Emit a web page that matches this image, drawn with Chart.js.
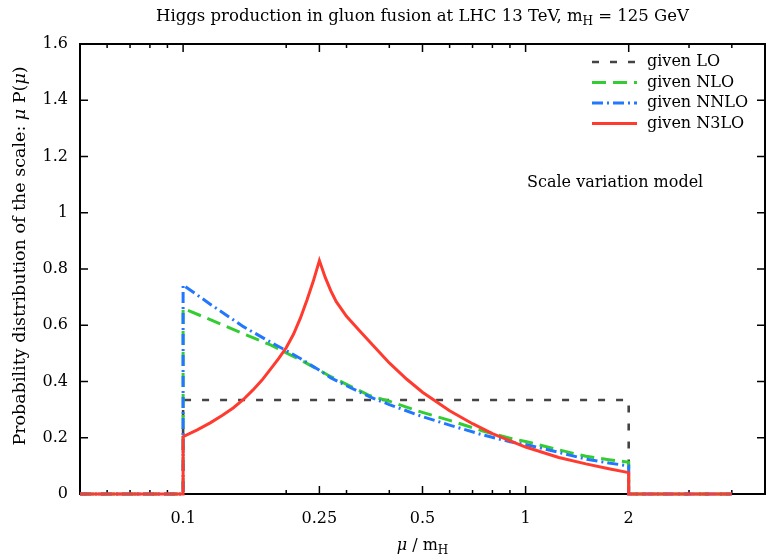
<!DOCTYPE html>
<html>
<head>
<meta charset="utf-8">
<script src="https://cdn.jsdelivr.net/npm/chart.js@4.4.1/dist/chart.umd.min.js"></script>
<style>
  html, body { margin: 0; padding: 0; background: #fff; }
  #wrap { width: 766px; height: 558px; }
</style>
</head>
<body>
<div id="wrap"><canvas id="chart" width="766" height="558"></canvas></div>
<script>
// mu / mH sample points (0.1 and 2 appear twice for the vertical edges)
const mu = [0.05, 0.1, 0.1, 0.12, 0.15, 0.18, 0.2, 0.22, 0.25, 0.27, 0.3, 0.35, 0.4, 0.5, 0.6, 0.75, 0.9, 1, 1.25, 1.5, 1.75, 2, 2, 4];
const givenLO   = [0, 0, 0.334, 0.334, 0.334, 0.334, 0.334, 0.334, 0.334, 0.334, 0.334, 0.334, 0.334, 0.334, 0.334, 0.334, 0.334, 0.334, 0.334, 0.334, 0.334, 0.334, 0, 0];
const givenNLO  = [0, 0, 0.66, 0.62, 0.57, 0.53, 0.502, 0.477, 0.44, 0.417, 0.39, 0.35, 0.33, 0.29, 0.262, 0.224, 0.198, 0.187, 0.157, 0.134, 0.122, 0.113, 0, 0];
const givenNNLO = [0, 0, 0.743, 0.675, 0.595, 0.54, 0.51, 0.482, 0.44, 0.413, 0.385, 0.346, 0.318, 0.275, 0.245, 0.21, 0.186, 0.176, 0.148, 0.124, 0.11, 0.10, 0, 0];

const muN3LO = [0.05, 0.1, 0.1, 0.11, 0.12, 0.13, 0.14, 0.15, 0.16, 0.17, 0.18, 0.19, 0.2, 0.21, 0.22, 0.23, 0.24, 0.25,
  0.26, 0.27, 0.28, 0.3, 0.325, 0.35, 0.4, 0.45, 0.5, 0.6, 0.7, 0.8, 1, 1.25, 1.5, 1.75, 2, 2, 4];
const givenN3LO = [0, 0, 0.204, 0.228, 0.253, 0.279, 0.306, 0.336, 0.37, 0.405, 0.444, 0.481, 0.52, 0.568, 0.625, 0.69, 0.757, 0.83,
  0.77, 0.722, 0.684, 0.632, 0.585, 0.542, 0.466, 0.408, 0.362, 0.296, 0.25, 0.215, 0.167, 0.13, 0.107, 0.09, 0.076, 0, 0];

const xTicks = [0.05, 0.06, 0.07, 0.08, 0.09, 0.1, 0.2, 0.25, 0.3, 0.4, 0.5, 0.6, 0.7, 0.8, 0.9, 1, 2, 3, 4, 5];
const xMajor = [0.1, 0.25, 0.5, 1, 2];
const xMajorLabels = ['0.1', '0.25', '0.5', '1', '2'];
const yTickLabels = ['0', '0.2', '0.4', '0.6', '0.8', '1', '1.2', '1.4', '1.6'];

const FONT = '"DejaVu Serif"';

function pts(xs, vals) {
  return xs.map((m, i) => ({x: m, y: vals[i]}));
}

// draws text made of pieces [text, font, dy]
function rich(ctx, parts, x, y, align) {
  let w = 0;
  parts.forEach(p => { ctx.font = p[1]; w += ctx.measureText(p[0]).width; });
  let cx = align === 'center' ? x - w / 2 : x;
  ctx.textAlign = 'left';
  ctx.textBaseline = 'alphabetic';
  parts.forEach(p => {
    ctx.font = p[1];
    ctx.fillText(p[0], cx, y + (p[2] || 0));
    cx += ctx.measureText(p[0]).width;
  });
}

const frame = {
  id: 'frame',
  beforeDatasetsDraw(chart) {
    const {ctx, chartArea: a, scales: {x, y}} = chart;
    ctx.save();
    ctx.strokeStyle = '#000';
    ctx.lineWidth = 2;
    ctx.strokeRect(a.left, a.top, a.right - a.left, a.bottom - a.top);
    ctx.lineWidth = 1.5;
    ctx.beginPath();
    x.ticks.forEach(t => {
      const px = x.getPixelForValue(t.value);
      const len = t.major ? 8 : 4;
      ctx.moveTo(px, a.bottom); ctx.lineTo(px, a.bottom - len);
      ctx.moveTo(px, a.top); ctx.lineTo(px, a.top + len);
    });
    y.ticks.forEach(t => {
      const py = y.getPixelForValue(t.value);
      ctx.moveTo(a.left, py); ctx.lineTo(a.left + 8, py);
      ctx.moveTo(a.right, py); ctx.lineTo(a.right - 8, py);
    });
    ctx.stroke();
    ctx.restore();
  },
  afterDraw(chart) {
    const {ctx, chartArea: a} = chart;
    const reg = '16px ' + FONT, ital = 'italic 16px ' + FONT, sub = '12px ' + FONT;
    ctx.save();
    ctx.fillStyle = '#000';
    rich(ctx, [['Higgs production in gluon fusion at LHC 13 TeV, m', '16.5px ' + FONT], ['H', sub, 4], [' = 125 GeV', '16.5px ' + FONT]], (a.left + a.right) / 2, 21, 'center');
    rich(ctx, [['\u03bc', ital], [' / m', reg], ['H', sub, 4]], (a.left + a.right) / 2, 550, 'center');
    ctx.translate(25, 256);
    ctx.rotate(-Math.PI / 2);
    const yl = '17.5px ' + FONT, yli = 'italic 17.5px ' + FONT;
    rich(ctx, [['Probability distribution of the scale: ', yl], ['\u03bc', yli], [' P(', yl], ['\u03bc', yli], [')', yl]], 0, 0, 'center');
    ctx.restore();

    // legend
    ctx.save();
    ctx.font = reg;
    ctx.fillStyle = '#000';
    ctx.textBaseline = 'middle';
    chart.data.datasets.forEach((ds, i) => {
      const ly = 62 + i * 20.5;
      ctx.strokeStyle = ds.borderColor;
      ctx.lineWidth = ds.borderWidth;
      ctx.setLineDash(ds.borderDash || []);
      ctx.beginPath();
      ctx.moveTo(592, ly); ctx.lineTo(637, ly);
      ctx.stroke();
      ctx.fillText(ds.label, 647, ly);
    });
    ctx.setLineDash([]);
    ctx.textBaseline = 'alphabetic';
    ctx.fillText('Scale variation model', 527, 187);
    ctx.restore();
  }
};

new Chart(document.getElementById('chart'), {
  type: 'scatter',
  data: {
    datasets: [
      {label: 'given LO', data: pts(mu, givenLO), borderColor: '#444444', borderWidth: 2.6, borderDash: [7, 11], order: 3},
      {label: 'given NLO', data: pts(mu, givenNLO), borderColor: '#33cc33', borderWidth: 3, borderDash: [14, 7], order: 2},
      {label: 'given NNLO', data: pts(mu, givenNNLO), borderColor: '#2277ff', borderWidth: 3, borderDash: [11, 4, 2, 4], order: 1},
      {label: 'given N3LO', data: pts(muN3LO, givenN3LO), borderColor: '#ff3b30', borderWidth: 3, order: 0}
    ].map(d => Object.assign(d, {showLine: true, pointRadius: 0, tension: 0, clip: 6, fill: false}))
  },
  options: {
    responsive: false,
    animation: false,
    layout: {padding: {top: 44, right: 1, left: 0, bottom: 0}},
    plugins: {legend: {display: false}, tooltip: {enabled: false}},
    scales: {
      x: {
        type: 'logarithmic',
        min: 0.05,
        max: 5,
        afterBuildTicks: s => { s.ticks = xTicks.map(v => ({value: v, major: xMajor.includes(v)})); },
        afterFit: s => { s.height = 64; s.paddingLeft = 0; s.paddingRight = 0; },
        ticks: {
          autoSkip: false,
          maxRotation: 0,
          padding: 15,
          color: '#000',
          font: {family: FONT, size: 16},
          callback: (v, i) => { const k = xMajor.indexOf(xTicks[i]); return k >= 0 ? xMajorLabels[k] : ''; }
        },
        grid: {display: false, drawTicks: false},
        border: {display: false}
      },
      y: {
        min: 0,
        max: 1.6,
        afterFit: s => { s.width = 80; s.paddingTop = 0; s.paddingBottom = 0; },
        ticks: {
          stepSize: 0.2,
          autoSkip: false,
          padding: 12,
          color: '#000',
          font: {family: FONT, size: 16},
          callback: (v, i) => yTickLabels[i]
        },
        grid: {display: false, drawTicks: false},
        border: {display: false}
      }
    }
  },
  plugins: [frame]
});
</script>
</body>
</html>
